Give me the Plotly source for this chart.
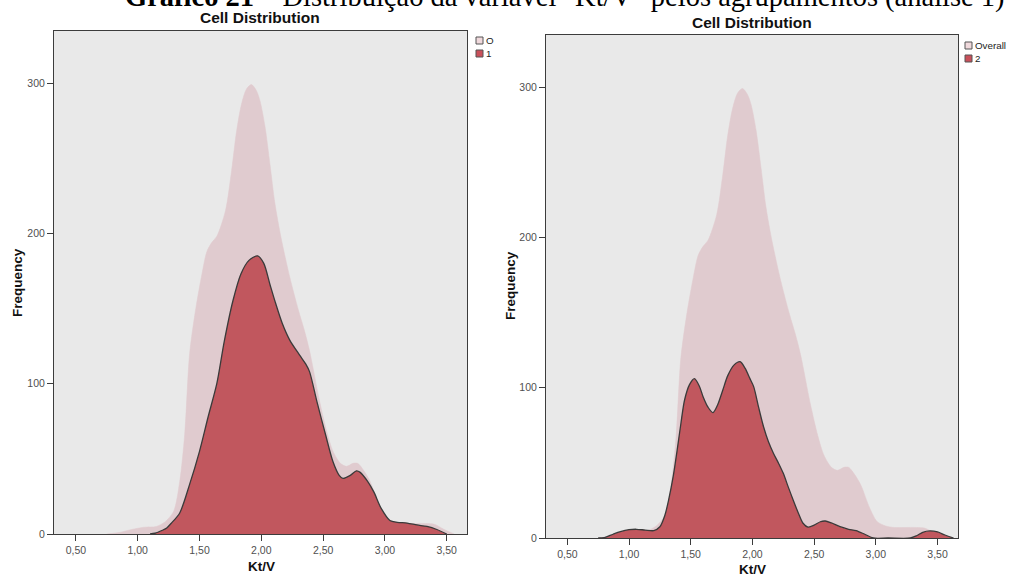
import plotly.graph_objects as go

# ---------------- data ----------------
overall_kt = [0.75, 0.85, 0.95, 1.05, 1.15, 1.22, 1.29, 1.34, 1.38, 1.42, 1.47, 1.52, 1.56, 1.60,
              1.64, 1.71, 1.76, 1.80, 1.84, 1.88, 1.92, 1.96, 1.99, 2.03, 2.07, 2.11, 2.16, 2.23,
              2.30, 2.35, 2.39, 2.47, 2.53, 2.58, 2.64, 2.69, 2.74, 2.78, 2.83, 2.88, 2.95, 3.01,
              3.08, 3.15, 3.23, 3.33, 3.40, 3.48, 3.56]
overall_freq = [0, 1, 3, 4.5, 5, 8, 15, 35, 66, 120, 150, 173, 188, 194,
                198, 215, 242, 268, 286, 296, 299, 295, 288, 271, 246, 220, 197, 171,
                149, 135, 122, 89, 68, 55, 47, 45, 47, 47, 42, 35, 20, 11,
                8, 7, 7, 7, 6.5, 3, 0]

g1_kt = [1.10, 1.14, 1.20, 1.235, 1.27, 1.34, 1.42, 1.50, 1.57, 1.64, 1.70, 1.77, 1.835, 1.90,
         1.97, 2.02, 2.07, 2.11, 2.17, 2.23, 2.31, 2.36, 2.39, 2.45, 2.52, 2.58, 2.63, 2.66,
         2.72, 2.77, 2.80, 2.86, 2.91, 2.97, 3.04, 3.10, 3.18, 3.26, 3.34, 3.42, 3.50]
g1_freq = [0, 0.5, 2.5, 4, 7, 14, 33, 55, 78, 100, 128, 155, 173, 182,
           185, 180, 166, 155, 140, 129, 119, 113, 108, 88, 66, 48, 39, 37,
           39, 42, 41, 35, 28, 17, 9, 7.8, 7.3, 6, 5, 3, 0]

g2_kt = [0.75, 0.80, 0.87, 0.93, 1.00, 1.06, 1.13, 1.20, 1.25, 1.29, 1.32, 1.36, 1.39, 1.42,
         1.45, 1.49, 1.53, 1.57, 1.60, 1.64, 1.68, 1.72, 1.76, 1.80, 1.85, 1.90, 1.94, 1.98,
         2.01, 2.05, 2.09, 2.13, 2.17, 2.21, 2.25, 2.29, 2.33, 2.37, 2.41, 2.45, 2.50, 2.55,
         2.59, 2.64, 2.71, 2.78, 2.84, 2.91, 2.98, 3.10, 3.28, 3.33, 3.38, 3.44, 3.50, 3.56, 3.63]
g2_freq = [0, 0.3, 2.5, 4.2, 5.5, 5.8, 5.3, 4.9, 7.5, 15, 25, 42, 58.5, 76,
           91.8, 102, 106, 101, 94, 87, 83.4, 89, 98.5, 108, 115, 117.3, 113, 106,
           100.7, 87, 74, 64, 56.4, 50, 43, 34, 25.3, 17, 9.8, 7.3, 8.5, 10.8,
           11.3, 10, 7.5, 5.8, 4.9, 2.5, 0, 0, 0, 1.5, 3.8, 4.7, 4, 2, 0]

x_tickvals = [0.5, 1.0, 1.5, 2.0, 2.5, 3.0, 3.5]
x_ticktext = ["0,50", "1,00", "1,50", "2,00", "2,50", "3,00", "3,50"]
y_tickvals = [0, 100, 200, 300]
y_ticktext = ["0", "100", "200", "300"]

legend_left = ["O", "1"]
legend_right = ["Overall", "2"]

# ---------------- styling ----------------
W, H = 1009, 577
OVERALL_FILL = "#e0cbcf"
GROUP_FILL = "#c1575e"
OUTLINE = "#3a3a3a"
PLOT_BG = "#e9e9e9"
AX = "#3c3c3c"

fig = go.Figure()

def add_area(x, y, xa, ya, fill, line_color, lw):
    fig.add_trace(go.Scatter(
        x=x, y=y, xaxis=xa, yaxis=ya, mode="lines",
        line=dict(shape="spline", smoothing=0.8, color=line_color, width=lw),
        fill="tozeroy", fillcolor=fill, hoverinfo="skip", showlegend=False))

add_area(overall_kt, overall_freq, "x", "y", OVERALL_FILL, OVERALL_FILL, 0.5)
add_area(g1_kt, g1_freq, "x", "y", GROUP_FILL, OUTLINE, 1.3)
add_area(overall_kt, overall_freq, "x2", "y2", OVERALL_FILL, OVERALL_FILL, 0.5)
add_area(g2_kt, g2_freq, "x2", "y2", GROUP_FILL, OUTLINE, 1.3)

def tickfont():
    return dict(family="Liberation Sans, Arial, sans-serif", size=10.5, color="rgb(80,80,80)")

def xaxis(domain, rng, anchor):
    return dict(domain=domain, range=rng, anchor=anchor, tickvals=x_tickvals, ticktext=x_ticktext,
                ticks="outside", ticklen=6, tickcolor=AX, tickwidth=1, showgrid=False, zeroline=False,
                showline=True, mirror=True, linecolor=AX, linewidth=1, tickfont=tickfont(), fixedrange=True)

def yaxis(domain, rng, anchor):
    return dict(domain=domain, range=rng, anchor=anchor, tickvals=y_tickvals, ticktext=y_ticktext,
                ticks="outside", ticklen=6, tickcolor=AX, tickwidth=1, showgrid=False, zeroline=False,
                showline=True, mirror=True, linecolor=AX, linewidth=1, tickfont=tickfont(), fixedrange=True)

def px(x):
    return x / W

def py(y):
    return 1 - y / H

fig.update_layout(
    template="none",
    width=W, height=H, margin=dict(l=0, r=0, t=0, b=0),
    paper_bgcolor="white", plot_bgcolor=PLOT_BG, showlegend=False,
    font=dict(family="Liberation Sans, Arial, sans-serif", color="#444"),
    xaxis=xaxis([px(54), px(467)], [0.323, 3.664], "y"),
    yaxis=yaxis([py(534), py(31)], [0, 334.6], "x"),
    xaxis2=xaxis([px(546), px(958)], [0.327, 3.666], "y2"),
    yaxis2=yaxis([py(538), py(35)], [0, 334.6], "x2"),
)

ann = []
bold = "Liberation Sans, Arial, sans-serif"
# page heading (cut off at the top in the reference)
ann.append(dict(text="<b>Gráfico 21</b> – Distribuição da variável \"Kt/V\" pelos agrupamentos (análise 1)",
                x=px(565), y=py(15), xref="paper", yref="paper", xanchor="center", yanchor="bottom",
                showarrow=False, font=dict(family="Liberation Serif, Times New Roman, serif", size=28.5, color="#000")))
# panel titles
for cx, cy in [(260, 18), (752, 22)]:
    ann.append(dict(text="<b>Cell Distribution</b>", x=px(cx), y=py(cy), xref="paper", yref="paper",
                    xanchor="center", yanchor="middle", showarrow=False,
                    font=dict(family=bold, size=15.5, color="#111")))
# axis titles
for cx, cy in [(17, 283), (510, 285)]:
    ann.append(dict(text="<b>Frequency</b>", x=px(cx), y=py(cy), xref="paper", yref="paper",
                    xanchor="center", yanchor="middle", textangle=-90, showarrow=False,
                    font=dict(family=bold, size=13.5, color="#111")))
for cx, cy in [(261, 566), (752, 569)]:
    ann.append(dict(text="<b>Kt/V</b>", x=px(cx), y=py(cy), xref="paper", yref="paper",
                    xanchor="center", yanchor="middle", showarrow=False,
                    font=dict(family=bold, size=13.5, color="#111")))

# legends (squares + labels)
shapes = []
for (sx, sy0, labels) in [(476, 37, legend_left), (965, 42, legend_right)]:
    for i, (lab, col) in enumerate(zip(labels, ["#f0d9dc", "#c9505a"])):
        y0 = sy0 + i * 13
        shapes.append(dict(type="rect", xref="paper", yref="paper",
                           x0=px(sx), x1=px(sx + 7), y0=py(y0 + 7), y1=py(y0),
                           fillcolor=col, line=dict(color="#555", width=1)))
        ann.append(dict(text=lab, x=px(sx + 8), y=py(y0 + 3.5), xref="paper", yref="paper",
                        xanchor="left", yanchor="middle", showarrow=False,
                        font=dict(family="Liberation Sans, Arial, sans-serif", size=9.8, color="#222")))

fig.update_layout(annotations=ann, shapes=shapes)
fig.write_html("out.html")
